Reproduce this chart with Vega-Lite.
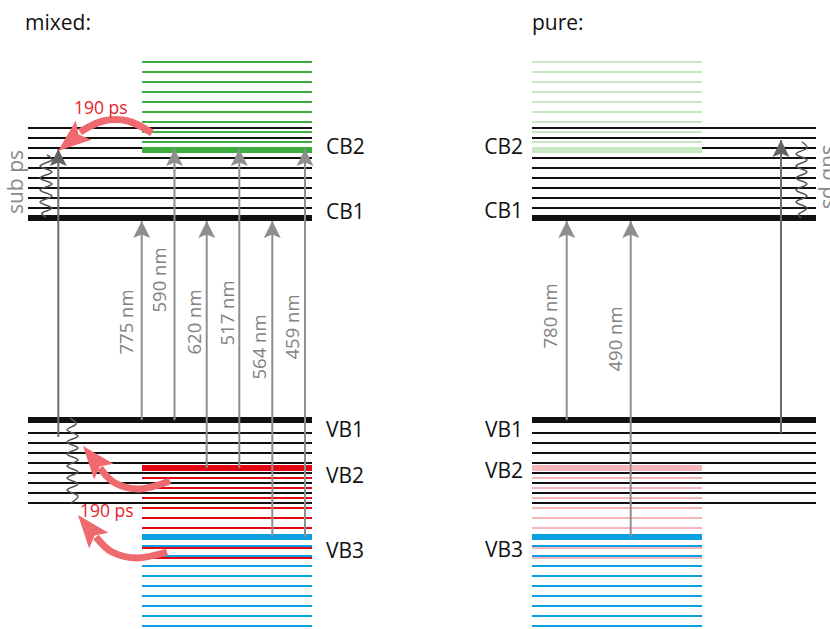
{
  "$schema": "https://vega.github.io/schema/vega-lite/v6.json",
  "width": 830,
  "height": 629,
  "padding": 0,
  "autosize": {"type": "none"},
  "background": "white",
  "config": {"view": {"stroke": null}, "text": {"font": "Open Sans"}},
  "resolve": {"scale": {"color": "independent", "strokeWidth": "independent", "angle": "independent"}},
  "datasets": {
    "levels": [
      {"s": "black", "k": "thin", "x1": 28, "x2": 312, "y": 128},
      {"s": "black", "k": "thin", "x1": 28, "x2": 312, "y": 138},
      {"s": "black", "k": "thin", "x1": 28, "x2": 312, "y": 148},
      {"s": "black", "k": "thin", "x1": 28, "x2": 312, "y": 158},
      {"s": "black", "k": "thin", "x1": 28, "x2": 312, "y": 168},
      {"s": "black", "k": "thin", "x1": 28, "x2": 312, "y": 178},
      {"s": "black", "k": "thin", "x1": 28, "x2": 312, "y": 188},
      {"s": "black", "k": "thin", "x1": 28, "x2": 312, "y": 198},
      {"s": "black", "k": "thin", "x1": 28, "x2": 312, "y": 208},
      {"s": "black", "k": "thick", "x1": 28, "x2": 312, "y": 218},
      {"s": "black", "k": "thick", "x1": 28, "x2": 312, "y": 420},
      {"s": "black", "k": "thin", "x1": 28, "x2": 312, "y": 433},
      {"s": "black", "k": "thin", "x1": 28, "x2": 312, "y": 443},
      {"s": "black", "k": "thin", "x1": 28, "x2": 312, "y": 453},
      {"s": "black", "k": "thin", "x1": 28, "x2": 312, "y": 463},
      {"s": "black", "k": "thin", "x1": 28, "x2": 312, "y": 473},
      {"s": "black", "k": "thin", "x1": 28, "x2": 312, "y": 483},
      {"s": "black", "k": "thin", "x1": 28, "x2": 312, "y": 493},
      {"s": "black", "k": "thin", "x1": 28, "x2": 312, "y": 503},
      {"s": "green", "k": "thin", "x1": 142, "x2": 312, "y": 62},
      {"s": "green", "k": "thin", "x1": 142, "x2": 312, "y": 72},
      {"s": "green", "k": "thin", "x1": 142, "x2": 312, "y": 82},
      {"s": "green", "k": "thin", "x1": 142, "x2": 312, "y": 92},
      {"s": "green", "k": "thin", "x1": 142, "x2": 312, "y": 102},
      {"s": "green", "k": "thin", "x1": 142, "x2": 312, "y": 112},
      {"s": "green", "k": "thin", "x1": 142, "x2": 312, "y": 122},
      {"s": "green", "k": "thin", "x1": 142, "x2": 312, "y": 132},
      {"s": "green", "k": "thin", "x1": 142, "x2": 312, "y": 142},
      {"s": "green", "k": "thick", "x1": 142, "x2": 312, "y": 150},
      {"s": "red", "k": "thin", "x1": 142, "x2": 312, "y": 478},
      {"s": "red", "k": "thin", "x1": 142, "x2": 312, "y": 488},
      {"s": "red", "k": "thin", "x1": 142, "x2": 312, "y": 498},
      {"s": "red", "k": "thin", "x1": 142, "x2": 312, "y": 508},
      {"s": "red", "k": "thin", "x1": 142, "x2": 312, "y": 518},
      {"s": "red", "k": "thin", "x1": 142, "x2": 312, "y": 528},
      {"s": "red", "k": "thin", "x1": 142, "x2": 312, "y": 538},
      {"s": "red", "k": "thin", "x1": 142, "x2": 312, "y": 548},
      {"s": "red", "k": "thin", "x1": 142, "x2": 312, "y": 558},
      {"s": "red", "k": "thick", "x1": 142, "x2": 312, "y": 468},
      {"s": "blue", "k": "thin", "x1": 142, "x2": 312, "y": 546},
      {"s": "blue", "k": "thin", "x1": 142, "x2": 312, "y": 556},
      {"s": "blue", "k": "thin", "x1": 142, "x2": 312, "y": 566},
      {"s": "blue", "k": "thin", "x1": 142, "x2": 312, "y": 576},
      {"s": "blue", "k": "thin", "x1": 142, "x2": 312, "y": 586},
      {"s": "blue", "k": "thin", "x1": 142, "x2": 312, "y": 596},
      {"s": "blue", "k": "thin", "x1": 142, "x2": 312, "y": 606},
      {"s": "blue", "k": "thin", "x1": 142, "x2": 312, "y": 616},
      {"s": "blue", "k": "thin", "x1": 142, "x2": 312, "y": 626},
      {"s": "blue", "k": "thick", "x1": 142, "x2": 312, "y": 537},

      {"s": "black", "k": "thin", "x1": 532, "x2": 816, "y": 128},
      {"s": "black", "k": "thin", "x1": 532, "x2": 816, "y": 138},
      {"s": "black", "k": "thin", "x1": 532, "x2": 816, "y": 148},
      {"s": "black", "k": "thin", "x1": 532, "x2": 816, "y": 158},
      {"s": "black", "k": "thin", "x1": 532, "x2": 816, "y": 168},
      {"s": "black", "k": "thin", "x1": 532, "x2": 816, "y": 178},
      {"s": "black", "k": "thin", "x1": 532, "x2": 816, "y": 188},
      {"s": "black", "k": "thin", "x1": 532, "x2": 816, "y": 198},
      {"s": "black", "k": "thin", "x1": 532, "x2": 816, "y": 208},
      {"s": "black", "k": "thick", "x1": 532, "x2": 816, "y": 218},
      {"s": "black", "k": "thick", "x1": 532, "x2": 816, "y": 420},
      {"s": "black", "k": "thin", "x1": 532, "x2": 816, "y": 433},
      {"s": "black", "k": "thin", "x1": 532, "x2": 816, "y": 443},
      {"s": "black", "k": "thin", "x1": 532, "x2": 816, "y": 453},
      {"s": "black", "k": "thin", "x1": 532, "x2": 816, "y": 463},
      {"s": "black", "k": "thin", "x1": 532, "x2": 816, "y": 473},
      {"s": "black", "k": "thin", "x1": 532, "x2": 816, "y": 483},
      {"s": "black", "k": "thin", "x1": 532, "x2": 816, "y": 493},
      {"s": "black", "k": "thin", "x1": 532, "x2": 816, "y": 503},
      {"s": "greenPale", "k": "thin", "x1": 532, "x2": 702, "y": 62},
      {"s": "greenPale", "k": "thin", "x1": 532, "x2": 702, "y": 72},
      {"s": "greenPale", "k": "thin", "x1": 532, "x2": 702, "y": 82},
      {"s": "greenPale", "k": "thin", "x1": 532, "x2": 702, "y": 92},
      {"s": "greenPale", "k": "thin", "x1": 532, "x2": 702, "y": 102},
      {"s": "greenPale", "k": "thin", "x1": 532, "x2": 702, "y": 112},
      {"s": "greenPale", "k": "thin", "x1": 532, "x2": 702, "y": 122},
      {"s": "greenPale", "k": "thin", "x1": 532, "x2": 702, "y": 132},
      {"s": "greenPale", "k": "thin", "x1": 532, "x2": 702, "y": 142},
      {"s": "greenPale", "k": "thick", "x1": 532, "x2": 702, "y": 150},
      {"s": "redPale", "k": "thin", "x1": 532, "x2": 702, "y": 478},
      {"s": "redPale", "k": "thin", "x1": 532, "x2": 702, "y": 488},
      {"s": "redPale", "k": "thin", "x1": 532, "x2": 702, "y": 498},
      {"s": "redPale", "k": "thin", "x1": 532, "x2": 702, "y": 508},
      {"s": "redPale", "k": "thin", "x1": 532, "x2": 702, "y": 518},
      {"s": "redPale", "k": "thin", "x1": 532, "x2": 702, "y": 528},
      {"s": "redPale", "k": "thin", "x1": 532, "x2": 702, "y": 538},
      {"s": "redPale", "k": "thin", "x1": 532, "x2": 702, "y": 548},
      {"s": "redPale", "k": "thin", "x1": 532, "x2": 702, "y": 558},
      {"s": "redPale", "k": "thick", "x1": 532, "x2": 702, "y": 468},
      {"s": "blue", "k": "thin", "x1": 532, "x2": 702, "y": 546},
      {"s": "blue", "k": "thin", "x1": 532, "x2": 702, "y": 556},
      {"s": "blue", "k": "thin", "x1": 532, "x2": 702, "y": 566},
      {"s": "blue", "k": "thin", "x1": 532, "x2": 702, "y": 576},
      {"s": "blue", "k": "thin", "x1": 532, "x2": 702, "y": 586},
      {"s": "blue", "k": "thin", "x1": 532, "x2": 702, "y": 596},
      {"s": "blue", "k": "thin", "x1": 532, "x2": 702, "y": 606},
      {"s": "blue", "k": "thin", "x1": 532, "x2": 702, "y": 616},
      {"s": "blue", "k": "thin", "x1": 532, "x2": 702, "y": 626},
      {"s": "blue", "k": "thick", "x1": 532, "x2": 702, "y": 537}
    ],
    "arrows": [
      {"x": 58.3, "yb": 437, "yt": 149, "t": "dark"},
      {"x": 141.7, "yb": 420, "yt": 221, "t": "light"},
      {"x": 174.5, "yb": 420, "yt": 149, "t": "light"},
      {"x": 206.7, "yb": 468, "yt": 221, "t": "light"},
      {"x": 239.3, "yb": 468, "yt": 149, "t": "light"},
      {"x": 272.3, "yb": 537, "yt": 221, "t": "light"},
      {"x": 305, "yb": 537, "yt": 149, "t": "light"},
      {"x": 566.7, "yb": 420, "yt": 221, "t": "light"},
      {"x": 630.7, "yb": 537, "yt": 221, "t": "light"},
      {"x": 781, "yb": 433, "yt": 140, "t": "dark"}
    ],
    "nm": [
      {"t": "775 nm", "x": 126.5, "y": 322},
      {"t": "590 nm", "x": 160, "y": 280},
      {"t": "620 nm", "x": 195, "y": 322},
      {"t": "517 nm", "x": 228, "y": 313},
      {"t": "564 nm", "x": 260, "y": 347},
      {"t": "459 nm", "x": 292.5, "y": 327},
      {"t": "780 nm", "x": 551, "y": 316},
      {"t": "490 nm", "x": 616, "y": 339}
    ],
    "waves": [
      {"w": "a", "o": 1, "x": 47, "y": 155}, {"w": "a", "o": 2, "x": 52, "y": 160},
      {"w": "a", "o": 3, "x": 40, "y": 166}, {"w": "a", "o": 4, "x": 52, "y": 172},
      {"w": "a", "o": 5, "x": 40, "y": 178}, {"w": "a", "o": 6, "x": 52, "y": 184},
      {"w": "a", "o": 7, "x": 40, "y": 190}, {"w": "a", "o": 8, "x": 52, "y": 196},
      {"w": "a", "o": 9, "x": 40, "y": 202}, {"w": "a", "o": 10, "x": 52, "y": 208},
      {"w": "a", "o": 11, "x": 42, "y": 213}, {"w": "a", "o": 12, "x": 46, "y": 217},
      {"w": "b", "o": 1, "x": 70, "y": 418}, {"w": "b", "o": 2, "x": 76, "y": 424},
      {"w": "b", "o": 3, "x": 67, "y": 430}, {"w": "b", "o": 4, "x": 78, "y": 436},
      {"w": "b", "o": 5, "x": 67, "y": 442}, {"w": "b", "o": 6, "x": 78, "y": 448},
      {"w": "b", "o": 7, "x": 67, "y": 454}, {"w": "b", "o": 8, "x": 78, "y": 460},
      {"w": "b", "o": 9, "x": 67, "y": 466}, {"w": "b", "o": 10, "x": 78, "y": 472},
      {"w": "b", "o": 11, "x": 67, "y": 478}, {"w": "b", "o": 12, "x": 78, "y": 484},
      {"w": "b", "o": 13, "x": 67, "y": 490}, {"w": "b", "o": 14, "x": 78, "y": 496},
      {"w": "b", "o": 15, "x": 71, "y": 503},
      {"w": "c", "o": 1, "x": 802, "y": 142}, {"w": "c", "o": 2, "x": 807, "y": 148},
      {"w": "c", "o": 3, "x": 796, "y": 154}, {"w": "c", "o": 4, "x": 807, "y": 160},
      {"w": "c", "o": 5, "x": 796, "y": 166}, {"w": "c", "o": 6, "x": 807, "y": 172},
      {"w": "c", "o": 7, "x": 796, "y": 178}, {"w": "c", "o": 8, "x": 807, "y": 184},
      {"w": "c", "o": 9, "x": 796, "y": 190}, {"w": "c", "o": 10, "x": 807, "y": 196},
      {"w": "c", "o": 11, "x": 796, "y": 202}, {"w": "c", "o": 12, "x": 807, "y": 208},
      {"w": "c", "o": 13, "x": 799, "y": 214}, {"w": "c", "o": 14, "x": 801, "y": 218}
    ],
    "curves": [
      {"c": "1", "o": 1, "x": 152, "y": 133}, {"c": "1", "o": 2, "x": 128, "y": 121},
      {"c": "1", "o": 3, "x": 103, "y": 121}, {"c": "1", "o": 4, "x": 80, "y": 132},
      {"c": "2", "o": 1, "x": 170, "y": 481}, {"c": "2", "o": 2, "x": 140, "y": 489},
      {"c": "2", "o": 3, "x": 115, "y": 483}, {"c": "2", "o": 4, "x": 100, "y": 468},
      {"c": "3", "o": 1, "x": 167, "y": 552}, {"c": "3", "o": 2, "x": 137, "y": 558},
      {"c": "3", "o": 3, "x": 112, "y": 552}, {"c": "3", "o": 4, "x": 96, "y": 537}
    ],
    "heads": [
      {"x": 58, "y": 151, "a": 231},
      {"x": 83, "y": 446, "a": 321},
      {"x": 78, "y": 515, "a": 321}
    ]
  },
  "layer": [
    {
      "data": {"name": "levels"},
      "mark": {"type": "rule", "strokeCap": "butt"},
      "encoding": {
        "x": {"field": "x1", "type": "quantitative", "scale": {"domain": [0, 830], "nice": false, "zero": false}, "axis": null},
        "x2": {"field": "x2"},
        "y": {"field": "y", "type": "quantitative", "scale": {"domain": [0, 629], "nice": false, "zero": false, "reverse": true}, "axis": null},
        "color": {"field": "s", "type": "nominal", "legend": null,
          "scale": {"domain": ["black", "green", "red", "blue", "greenPale", "redPale"],
                    "range": ["#111111", "#3cae3f", "#e30613", "#0a9fe0", "#c6e7c2", "#f5b5ba"]}},
        "strokeWidth": {"field": "k", "type": "nominal", "legend": null,
          "scale": {"domain": ["thin", "thick"], "range": [2, 6]}}
      }
    },
    {
      "data": {"name": "arrows"},
      "mark": {"type": "rule", "strokeWidth": 2},
      "encoding": {
        "x": {"field": "x", "type": "quantitative", "scale": {"domain": [0, 830], "nice": false, "zero": false}, "axis": null},
        "y": {"field": "yb", "type": "quantitative", "scale": {"domain": [0, 629], "nice": false, "zero": false, "reverse": true}, "axis": null},
        "y2": {"field": "yt"},
        "color": {"field": "t", "type": "nominal", "legend": null,
          "scale": {"domain": ["light", "dark"], "range": ["#8e8e8e", "#6c6c6c"]}}
      }
    },
    {
      "data": {"name": "arrows"},
      "mark": {"type": "point", "filled": true, "opacity": 1, "strokeWidth": 0, "shape": "M0,0L1,2L0,1.6L-1,2Z", "size": 289},
      "encoding": {
        "x": {"field": "x", "type": "quantitative", "scale": {"domain": [0, 830], "nice": false, "zero": false}, "axis": null},
        "y": {"field": "yt", "type": "quantitative", "scale": {"domain": [0, 629], "nice": false, "zero": false, "reverse": true}, "axis": null},
        "color": {"field": "t", "type": "nominal", "legend": null,
          "scale": {"domain": ["light", "dark"], "range": ["#8e8e8e", "#626262"]}}
      }
    },
    {
      "data": {"name": "nm"},
      "mark": {"type": "text", "angle": 270, "align": "center", "baseline": "middle", "fontSize": 18.5, "color": "#828282"},
      "encoding": {
        "x": {"field": "x", "type": "quantitative", "scale": {"domain": [0, 830], "nice": false, "zero": false}, "axis": null},
        "y": {"field": "y", "type": "quantitative", "scale": {"domain": [0, 629], "nice": false, "zero": false, "reverse": true}, "axis": null},
        "text": {"field": "t"}
      }
    },
    {
      "data": {"name": "waves"},
      "mark": {"type": "line", "interpolate": "cardinal", "strokeWidth": 1.5, "color": "#555555"},
      "encoding": {
        "x": {"field": "x", "type": "quantitative", "scale": {"domain": [0, 830], "nice": false, "zero": false}, "axis": null},
        "y": {"field": "y", "type": "quantitative", "scale": {"domain": [0, 629], "nice": false, "zero": false, "reverse": true}, "axis": null},
        "detail": {"field": "w"},
        "order": {"field": "o", "type": "quantitative"}
      }
    },
    {
      "data": {"name": "curves"},
      "mark": {"type": "line", "interpolate": "cardinal", "strokeWidth": 7, "strokeCap": "butt", "color": "#ee6a6e"},
      "encoding": {
        "x": {"field": "x", "type": "quantitative", "scale": {"domain": [0, 830], "nice": false, "zero": false}, "axis": null},
        "y": {"field": "y", "type": "quantitative", "scale": {"domain": [0, 629], "nice": false, "zero": false, "reverse": true}, "axis": null},
        "detail": {"field": "c"},
        "order": {"field": "o", "type": "quantitative"}
      }
    },
    {
      "data": {"name": "heads"},
      "mark": {"type": "point", "filled": true, "opacity": 1, "strokeWidth": 0, "shape": "M0,0L0.75,2L0,1.6L-0.75,2Z", "size": 1089, "color": "#ee6a6e"},
      "encoding": {
        "x": {"field": "x", "type": "quantitative", "scale": {"domain": [0, 830], "nice": false, "zero": false}, "axis": null},
        "y": {"field": "y", "type": "quantitative", "scale": {"domain": [0, 629], "nice": false, "zero": false, "reverse": true}, "axis": null},
        "angle": {"field": "a", "type": "quantitative", "scale": null}
      }
    },
    {
      "data": {"values": [
        {"t": "CB2", "x": 326, "y": 154}, {"t": "CB1", "x": 326, "y": 219},
        {"t": "VB1", "x": 326, "y": 437}, {"t": "VB2", "x": 326, "y": 482.5},
        {"t": "VB3", "x": 326, "y": 558},
        {"t": "mixed:", "x": 25, "y": 30}, {"t": "pure:", "x": 532, "y": 30}
      ]},
      "mark": {"type": "text", "align": "left", "baseline": "alphabetic", "fontSize": 21, "color": "#111111"},
      "encoding": {
        "x": {"field": "x", "type": "quantitative", "scale": {"domain": [0, 830], "nice": false, "zero": false}, "axis": null},
        "y": {"field": "y", "type": "quantitative", "scale": {"domain": [0, 629], "nice": false, "zero": false, "reverse": true}, "axis": null},
        "text": {"field": "t"}
      }
    },
    {
      "data": {"values": [
        {"t": "CB2", "x": 523, "y": 154}, {"t": "CB1", "x": 523, "y": 218},
        {"t": "VB1", "x": 523, "y": 437}, {"t": "VB2", "x": 523, "y": 478},
        {"t": "VB3", "x": 523, "y": 557}
      ]},
      "mark": {"type": "text", "align": "right", "baseline": "alphabetic", "fontSize": 21, "color": "#111111"},
      "encoding": {
        "x": {"field": "x", "type": "quantitative", "scale": {"domain": [0, 830], "nice": false, "zero": false}, "axis": null},
        "y": {"field": "y", "type": "quantitative", "scale": {"domain": [0, 629], "nice": false, "zero": false, "reverse": true}, "axis": null},
        "text": {"field": "t"}
      }
    },
    {
      "data": {"values": [
        {"t": "190 ps", "x": 74, "y": 114}, {"t": "190 ps", "x": 80, "y": 517}
      ]},
      "mark": {"type": "text", "align": "left", "baseline": "alphabetic", "fontSize": 17.5, "color": "#e4242b"},
      "encoding": {
        "x": {"field": "x", "type": "quantitative", "scale": {"domain": [0, 830], "nice": false, "zero": false}, "axis": null},
        "y": {"field": "y", "type": "quantitative", "scale": {"domain": [0, 629], "nice": false, "zero": false, "reverse": true}, "axis": null},
        "text": {"field": "t"}
      }
    },
    {
      "data": {"values": [{"t": "sub ps", "x": 17, "y": 182}]},
      "mark": {"type": "text", "angle": 270, "align": "center", "baseline": "middle", "fontSize": 21, "color": "#8a8a8a"},
      "encoding": {
        "x": {"field": "x", "type": "quantitative", "scale": {"domain": [0, 830], "nice": false, "zero": false}, "axis": null},
        "y": {"field": "y", "type": "quantitative", "scale": {"domain": [0, 629], "nice": false, "zero": false, "reverse": true}, "axis": null},
        "text": {"field": "t"}
      }
    },
    {
      "data": {"values": [{"t": "sub ps", "x": 829, "y": 177}]},
      "mark": {"type": "text", "angle": 90, "align": "center", "baseline": "middle", "fontSize": 21, "color": "#8a8a8a"},
      "encoding": {
        "x": {"field": "x", "type": "quantitative", "scale": {"domain": [0, 830], "nice": false, "zero": false}, "axis": null},
        "y": {"field": "y", "type": "quantitative", "scale": {"domain": [0, 629], "nice": false, "zero": false, "reverse": true}, "axis": null},
        "text": {"field": "t"}
      }
    }
  ]
}
